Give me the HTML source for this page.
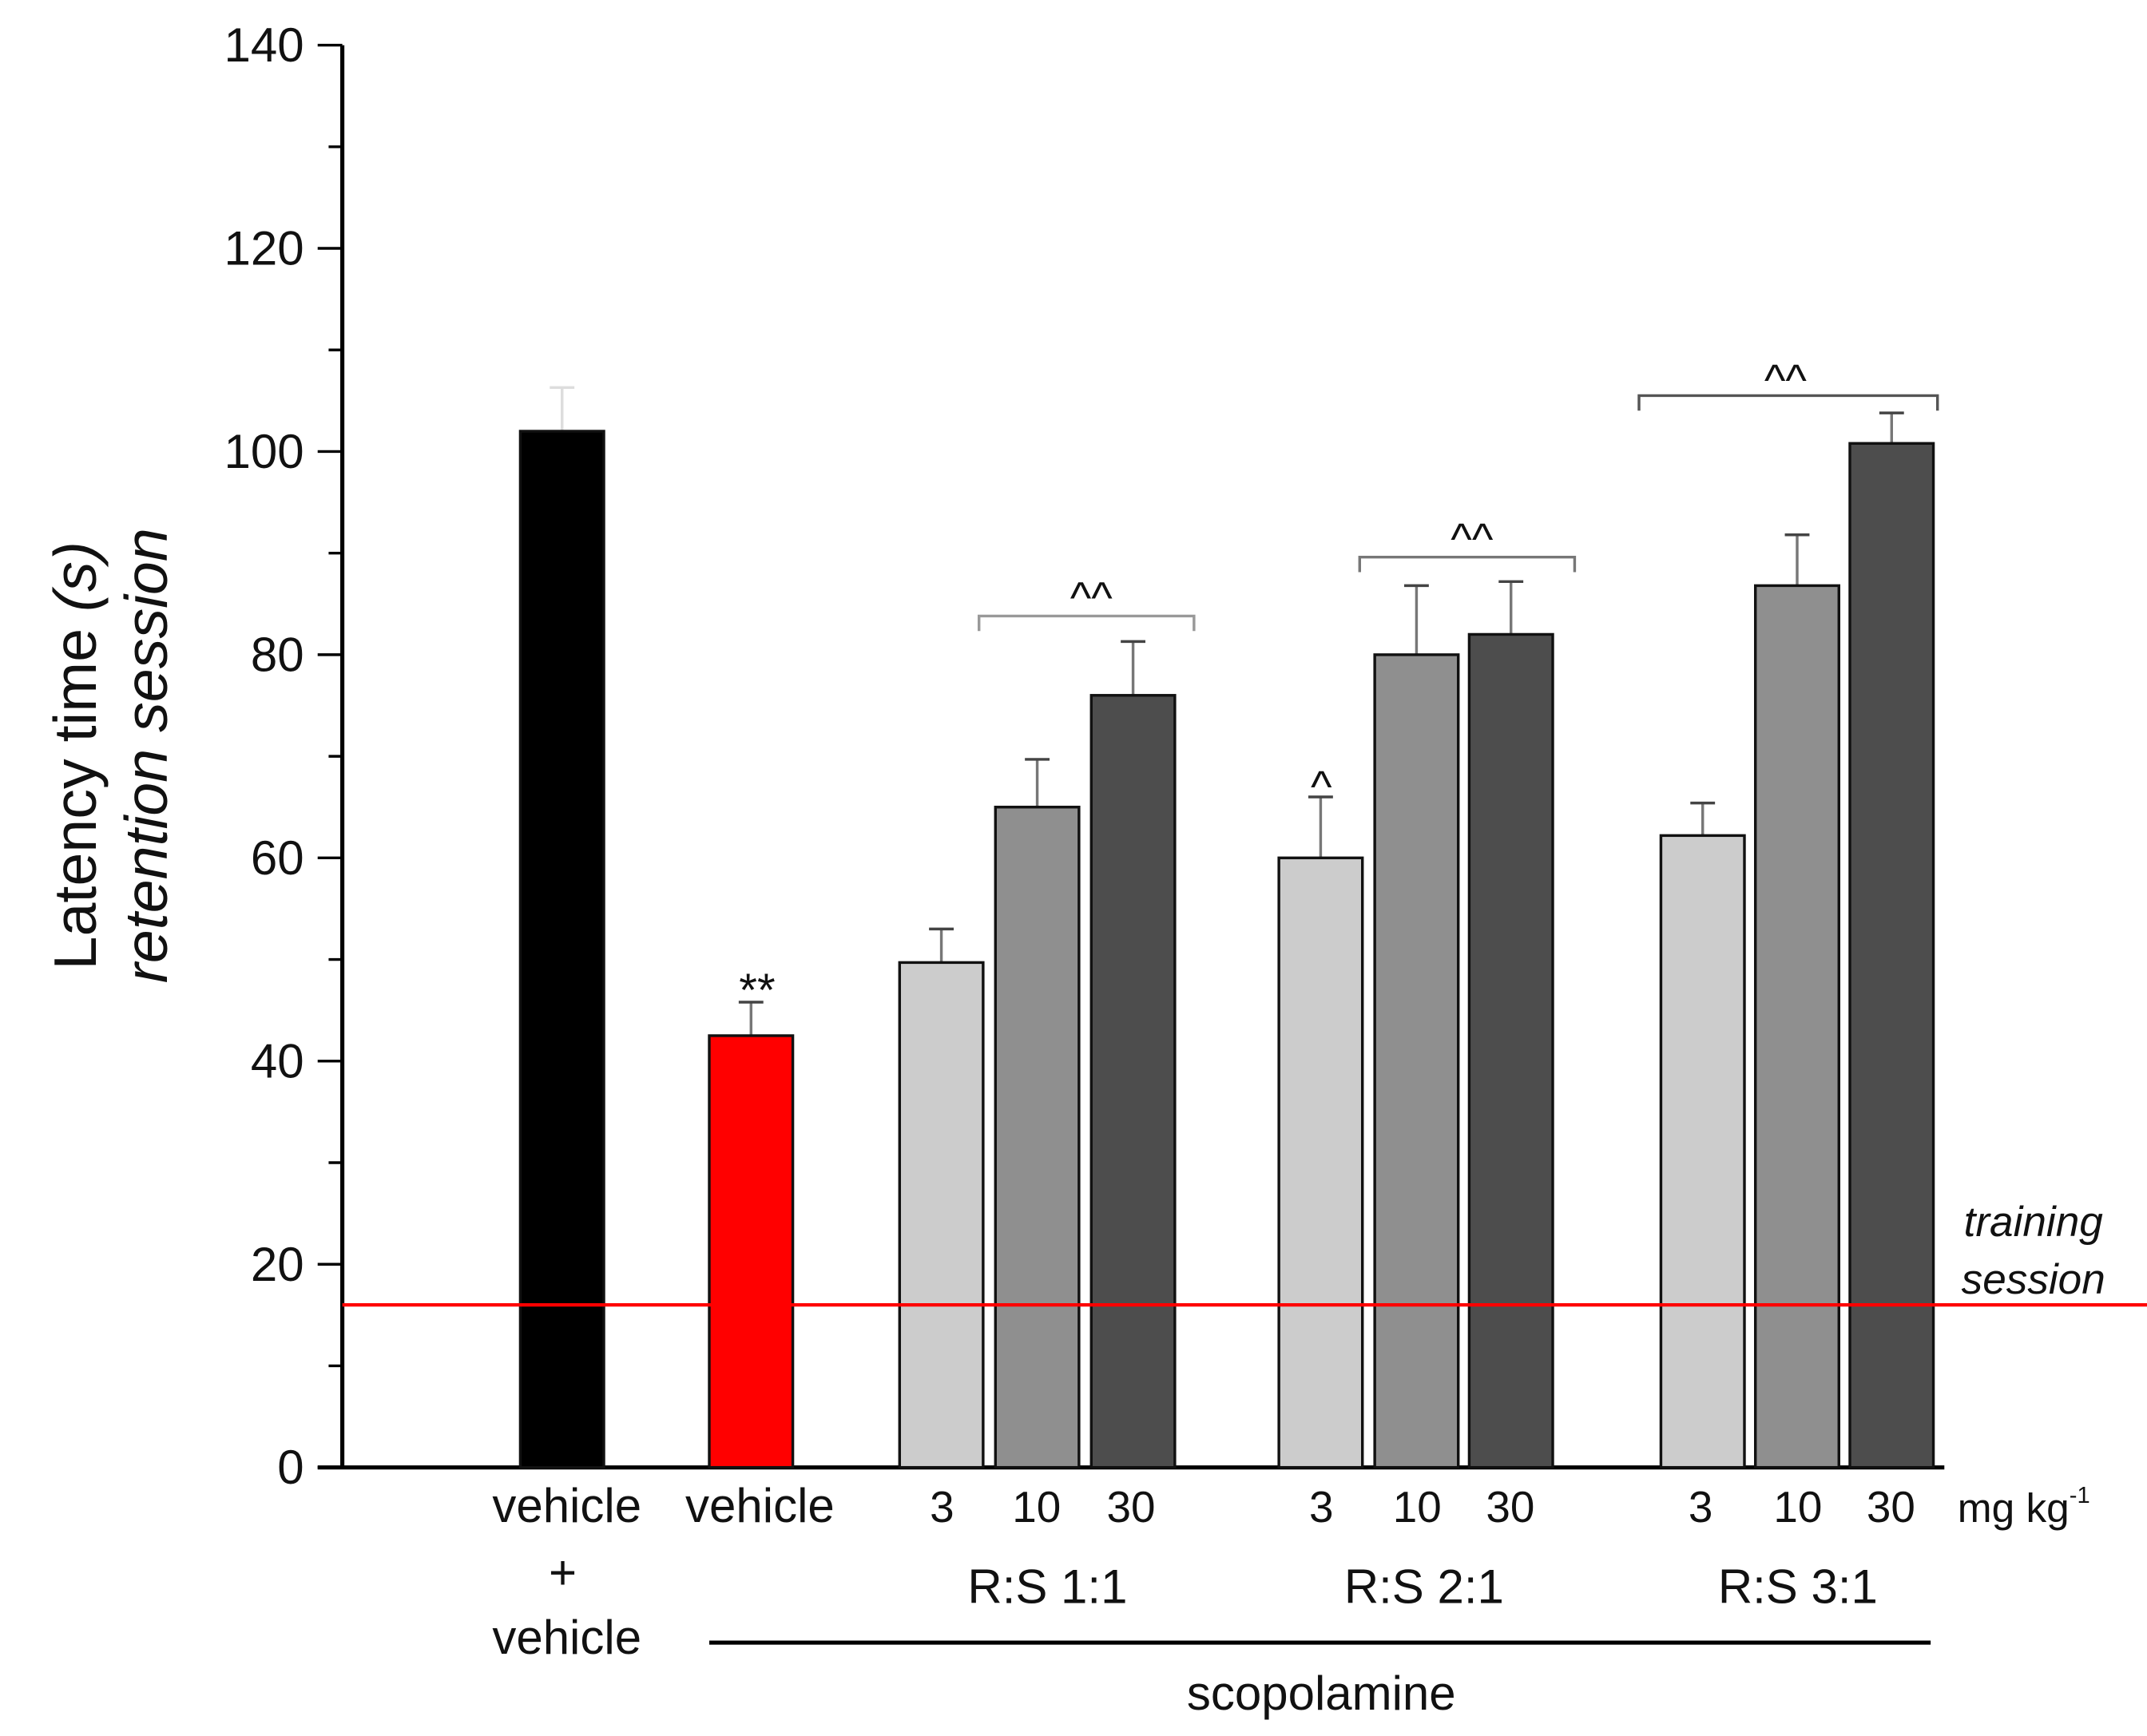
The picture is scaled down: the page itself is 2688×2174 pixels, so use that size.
<!DOCTYPE html>
<html><head><meta charset="utf-8"><style>html,body{margin:0;padding:0;background:#fff}svg{display:block}text{font-family:"Liberation Sans",sans-serif;fill:#111}</style></head>
<body>
<svg id="chart" width="2688" height="2174" viewBox="0 0 1568 1268.2" preserveAspectRatio="none" xmlns="http://www.w3.org/2000/svg">
<g id="axes"></g>
<g id="bars"></g>
<g id="labels"></g>
</svg>
<script>
const categories = ["vehicle+vehicle","vehicle","1:1-3","1:1-10","1:1-30","2:1-3","2:1-10","2:1-30","3:1-3","3:1-10","3:1-30"];
const values = [102,42.5,49.7,65,76,60,80,82,62.2,86.8,100.8];
const errors = [4.3,3.3,3.3,4.7,5.3,6,6.8,5.2,3.2,5,3];
const colors = ["#000","#ff0000","#cccccc","#8f8f8f","#4d4d4d","#cccccc","#8f8f8f","#4d4d4d","#cccccc","#8f8f8f","#4d4d4d"];
const barLefts = [380,518,657,727,797,934,1004,1073,1213,1282,1351];
const yTicks = [0,20,40,60,80,100,120,140];
const trainingLevel = 16;

const NS="http://www.w3.org/2000/svg";
const y0=1072, yTop=33, x0=250;
function yScale(v){return y0-(v/140)*(y0-yTop);}
function el(tag,attrs,parent,txt){const e=document.createElementNS(NS,tag);for(const k in attrs)e.setAttribute(k,attrs[k]);if(txt!==undefined)e.textContent=txt;parent.appendChild(e);return e;}
const axes=document.getElementById('axes'),bars=document.getElementById('bars'),labels=document.getElementById('labels');

let a=el('line',{x1:x0,y1:yTop,x2:x0,y2:y0+1,stroke:'#000','stroke-width':3},axes);


a=el('line',{x1:232,y1:y0,x2:1420,y2:y0,stroke:'#000','stroke-width':3},axes);


for(let v=0;v<=140;v+=10){const t=el('line',{x1:(v%20===0?232:240),y1:yScale(v),x2:x0,y2:yScale(v),stroke:'#000','stroke-width':2},axes);

}
yTicks.forEach(v=>{const t=el('text',{x:222,y:yScale(v)+12,'text-anchor':'end','font-size':35},axes,String(v));

});
let tt=el('text',{transform:'translate(70,552) rotate(-90)','text-anchor':'middle','font-size':44},axes);


tt.innerHTML='Latency time <tspan font-style="italic">(s)</tspan>';
tt=el('text',{transform:'translate(122,552) rotate(-90)','text-anchor':'middle','font-size':44,'font-style':'italic'},axes,'retention session');



const bw=61;
categories.forEach((c,i)=>{
  const x=barLefts[i],top=yScale(values[i]),cx=x+bw/2;
  const e1=el('line',{x1:cx,y1:yScale(values[i]+errors[i]),x2:cx,y2:top,stroke:i===0?'#ddd':'#777','stroke-width':2},bars);
  
  
  const e2=el('line',{x1:cx-9,y1:yScale(values[i]+errors[i]),x2:cx+9,y2:yScale(values[i]+errors[i]),stroke:i===0?'#ddd':'#444','stroke-width':2},bars);
  
  
  const r=el('rect',{x:x,y:top,width:bw,height:y0-top,fill:colors[i],stroke:'#111','stroke-width':2},bars);
  
  
});
let tl=el('line',{x1:x0,y1:yScale(trainingLevel),x2:1568,y2:yScale(trainingLevel),stroke:'#ff0000','stroke-width':2.5},bars);



function txt(x,y,s,size,name,extra){const t=el('text',Object.assign({x:x,y:y,'text-anchor':'middle','font-size':size},extra||{}),labels,s);return t;}
function bracket(x1,x2,y,name,col){const p=el('path',{d:`M${x1},${y+11}V${y}H${x2}V${y+11}`,fill:'none',stroke:col,'stroke-width':2},labels);}
bracket(715,872,450,'bracket-rs-1-1','#999');
bracket(993,1150,407,'bracket-rs-2-1','#777');
bracket(1197,1415,289,'bracket-rs-3-1','#555');
txt(797,448,'^^',33,'sig-rs-1-1');
txt(1075,405,'^^',33,'sig-rs-2-1');
txt(1304,289,'^^',33,'sig-rs-3-1');
txt(965,586,'^',33,'sig-rs-2-1-dose-3');
txt(553,735,'**',34,'sig-vehicle');
txt(1485,903,'training',31,'training-label',{'font-style':'italic'});
txt(1485,945,'session',31,'training-label-2',{'font-style':'italic'});

txt(414,1112,'vehicle',35,'x-label-vehicle');
txt(411,1161,'+',35,'x-label-plus');
txt(414,1208,'vehicle',35,'x-label-vehicle-2');
txt(555,1112,'vehicle',35,'x-label-vehicle-scop');
[["3",688],["10",757],["30",826],["3",965],["10",1035],["30",1103],["3",1242],["10",1313],["30",1381]].forEach(d=>txt(d[1],1112,d[0],32,'dose-label'));
let mg=txt(1478,1112,'mg kg',30,'unit-label');
mg.innerHTML='mg kg<tspan font-size="17" dy="-14">-1</tspan>';
txt(765,1171,'R:S 1:1',35,'group-label-1-1');
txt(1040,1171,'R:S 2:1',35,'group-label-2-1');
txt(1313,1171,'R:S 3:1',35,'group-label-3-1');
let sl=el('line',{x1:518,y1:1200,x2:1410,y2:1200,stroke:'#000','stroke-width':3},labels);


txt(965,1249,'scopolamine',35,'scopolamine-label');
</script>
</body></html>
